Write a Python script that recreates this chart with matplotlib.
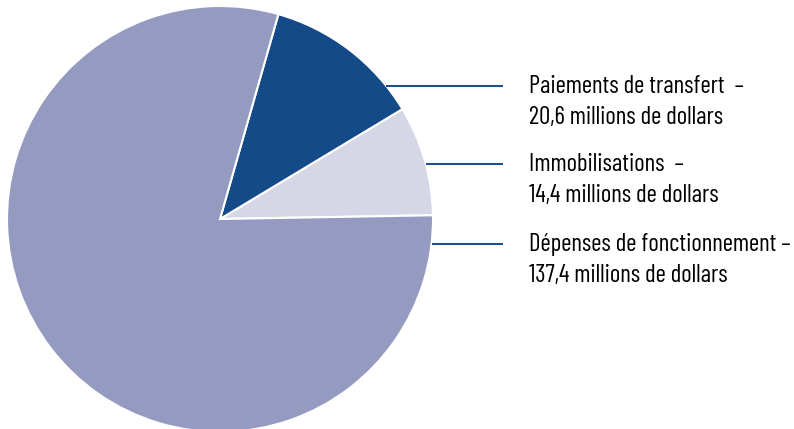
import matplotlib
matplotlib.use("Agg")
import matplotlib.pyplot as plt
import numpy as np

plt.rcParams['font.family'] = ['Barlow Condensed', 'DejaVu Sans']

# spending breakdown, millions of dollars (counter-clockwise from the right)
categories = ["Immobilisations", "Paiements de transfert", "Dépenses de fonctionnement"]
values = [14.4, 20.6, 137.4]
amounts = ["14,4 millions de dollars", "20,6 millions de dollars", "137,4 millions de dollars"]
headings = ["Immobilisations  –", "Paiements de transfert  –", "Dépenses de fonctionnement –"]
colors = ["#d5d7e6", "#144a88", "#959bc0"]

# vertical position of each leader line, in pie radii above centre
label_y = [0.258, 0.624, -0.117]

W, H = 794, 429
fig = plt.figure(figsize=(W / 100, H / 100), dpi=100)
R = 213
cx, cy = 220, 429 - 219
ax = fig.add_axes([(cx - R) / W, (cy - R) / H, 2 * R / W, 2 * R / H])

ax.pie(values, colors=colors, startangle=1, counterclock=True,
       wedgeprops=dict(edgecolor="white", linewidth=1.5))
ax.set_xlim(-1, 1)
ax.set_ylim(-1, 1)
ax.set_aspect("equal")

x_end = (503 - cx) / R
x_text = (529 - cx) / R
for head, amt, y in zip(headings, amounts, label_y):
    x0 = np.sqrt(1 - y ** 2)
    ax.plot([x0, x_end], [y, y], color="#1f4f8d", lw=1.5, clip_on=False,
            solid_capstyle="butt")
    base = y - 7 / R
    ax.text(x_text, base, head, ha="left", va="baseline", fontsize=18,
            color="black", clip_on=False)
    ax.text(x_text, base - 31 / R, amt, ha="left", va="baseline", fontsize=18,
            color="black", clip_on=False)

fig.savefig("out.png", dpi=100)
